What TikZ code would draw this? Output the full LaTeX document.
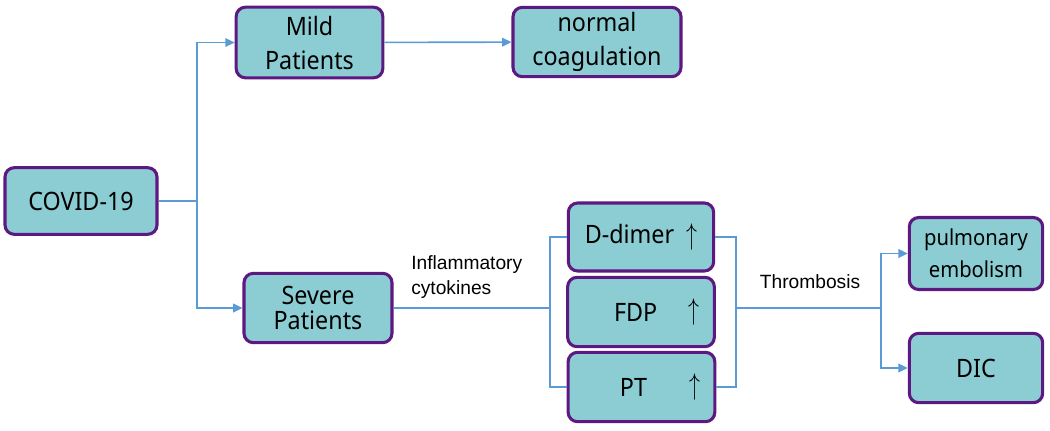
\documentclass[tikz,border=0pt]{standalone}
\usepackage{fontspec}
\setmainfont[FakeStretch=0.92]{Noto Sans}
\newfontfamily\arialfont{Liberation Sans}
\usetikzlibrary{arrows.meta}
\definecolor{boxfill}{RGB}{140,205,211}
\definecolor{boxline}{RGB}{94,24,130}
\definecolor{linkblue}{RGB}{91,155,213}
\newcommand{\upmark}{\raisebox{-0.05ex}{\scalebox{0.95}[1.3]{$\uparrow$}}}

\begin{document}
\begin{tikzpicture}[x=0.75pt, y=-0.75pt,
    every node/.style={inner sep=0pt},
    boxfont/.style={font=\fontsize{19}{25.5}\selectfont},
    box/.style={draw=boxline, line width=2.3pt, fill=boxfill, rounded corners=7pt,
                align=center, boxfont},
    link/.style={draw=linkblue, line width=1.2pt},
    arr/.style={link, -{Triangle[length=7pt, width=6.5pt]}},
    note/.style={font=\arialfont\fontsize{14.4}{19}\selectfont, align=left}]

\useasboundingbox (0,0) rectangle (1050,430);

% Nodes
\node[box, minimum width=114pt, minimum height=50pt]  (covid)  at (81,201)    {COVID-19};
\node[box, minimum width=110pt, minimum height=53pt]  (mild)   at (309.5,42.5) {Mild\\Patients};
\node[box, minimum width=126pt, minimum height=52pt]  (normal) at (597,42)    {normal\\coagulation};
\node[box, minimum width=111pt, minimum height=52pt,
      font=\fontsize{19}{19}\selectfont]              (severe) at (318,308)    {Severe\\Patients};
\node[box, minimum width=109pt, minimum height=51pt]  (ddimer) at (641,237)    {D-dimer\hspace{9pt}\upmark};
\node[box, minimum width=110pt, minimum height=52pt,
      label={[anchor=east, xshift=-12pt, boxfont]east:\upmark}] (fdp) at (641,312)   {FDP\hspace{8pt}};
\node[box, minimum width=110pt, minimum height=52pt,
      label={[anchor=east, xshift=-12pt, boxfont]east:\upmark}] (pt)  at (641.5,387) {PT\hspace{12pt}};
\node[box, minimum width=100pt, minimum height=54pt,
      font=\fontsize{16.5}{24}\selectfont]            (pulm)   at (976,253.5)  {pulmonary\\embolism};
\node[box, minimum width=100pt, minimum height=52pt]  (dic)    at (976,368)    {DIC};

\node[note, anchor=west] (inflam) at (411,277) {Inflammatory\\cytokines};
\node[note] (thromb) at (810,282) {Thrombosis};

\coordinate (split1) at (197,201);
\coordinate (split2) at (550,308);
\coordinate (join)   at (736,308);
\coordinate (split3) at (881,308);

% Edges
\draw[link] (covid) -- (split1);
\draw[arr]  (split1) |- (mild);
\draw[arr]  (split1) |- (severe);
\draw[arr]  (mild) -- (normal);
\draw[link] (severe) -- (split2);
\draw[link] (split2) |- (ddimer);
\draw[link] (split2) |- (pt);
\draw[link] (ddimer) -| (join);
\draw[link] (pt) -| (join);
\draw[link] (join) -- (split3);
\draw[arr]  (split3) |- (pulm);
\draw[arr]  (split3) |- (dic);

\end{tikzpicture}
\end{document}
